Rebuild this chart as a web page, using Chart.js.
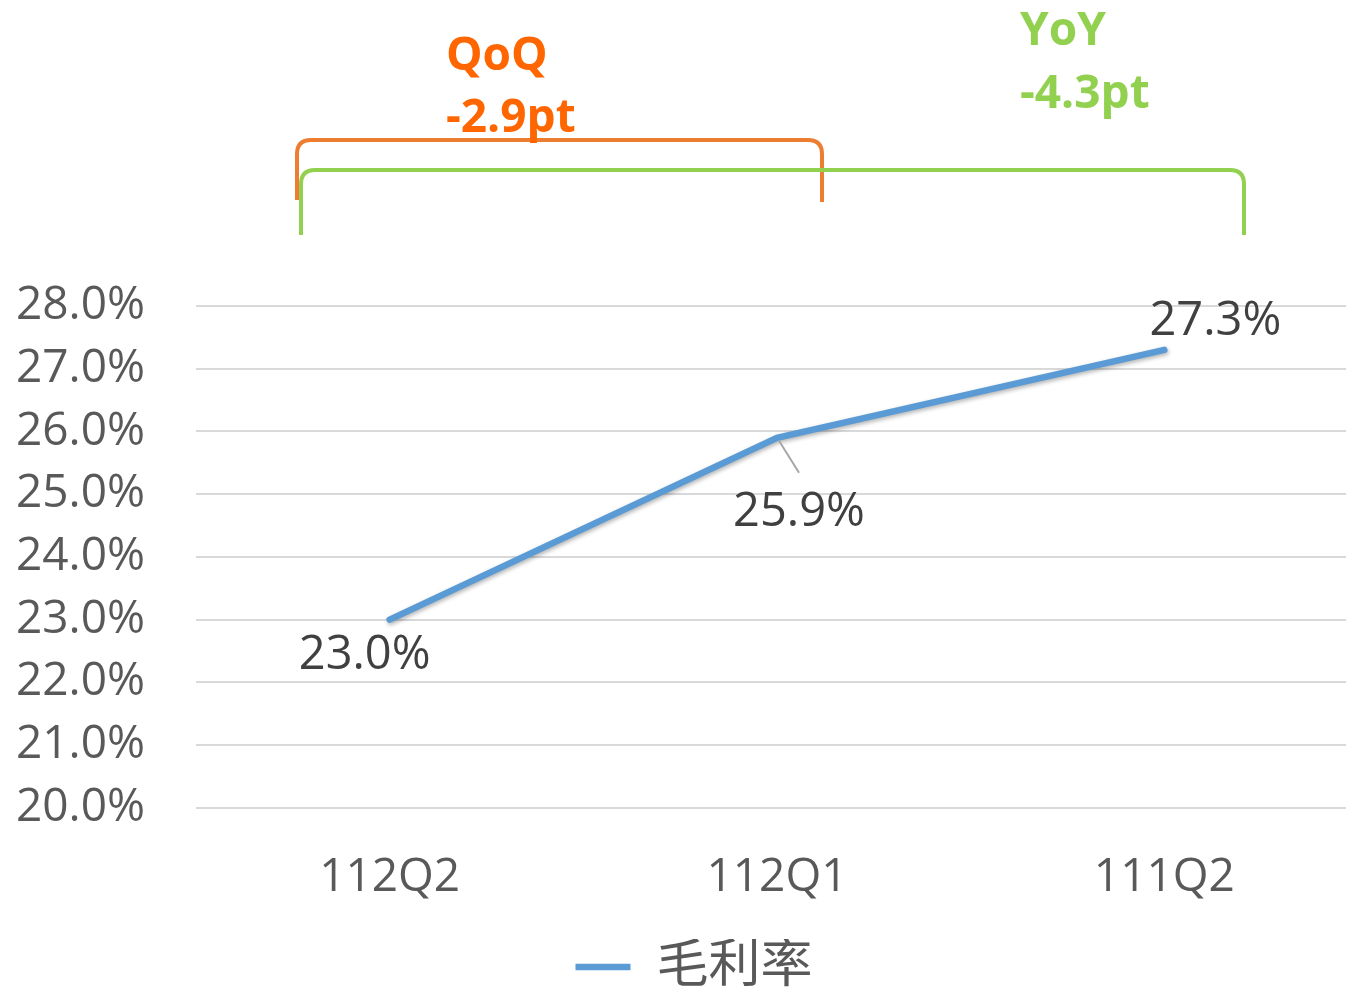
<!DOCTYPE html>
<html>
<head>
<meta charset="utf-8">
<script src="https://cdn.jsdelivr.net/npm/chart.js@4.4.0/dist/chart.umd.min.js"></script>
<style>
  body { margin: 0; overflow: hidden; background: #fff; }
  #wrap { width: 1358px; height: 987px; }
</style>
</head>
<body>
<div id="wrap"><canvas id="chart"></canvas></div>
<script>
// data
var categories = ["112Q2", "112Q1", "111Q2"];
var grossMargin = [23.0, 25.9, 27.3];
var seriesName = "毛利率";
var yTicks = [20, 21, 22, 23, 24, 25, 26, 27, 28];

var FONT = "'Open Sans', 'Noto Sans CJK TC', sans-serif";

// where each value label sits relative to its point
var labelOffsets = [[-25, 36], [22, 75], [51, -28]];

var valueLabels = {
    id: 'valueLabels',
    afterDatasetsDraw: function (chart) {
        var ctx = chart.ctx;
        var meta = chart.getDatasetMeta(0);
        ctx.save();
        // leader line for the middle label
        var p = meta.data[1];
        ctx.strokeStyle = '#a6a6a6';
        ctx.lineWidth = 2;
        ctx.beginPath();
        ctx.moveTo(p.x + 2, p.y + 3);
        ctx.lineTo(p.x + 22, p.y + 35);
        ctx.stroke();

        ctx.fillStyle = '#404040';
        ctx.font = '47px ' + FONT;
        ctx.textAlign = 'center';
        ctx.textBaseline = 'middle';
        meta.data.forEach(function (pt, i) {
            ctx.fillText(grossMargin[i].toFixed(1) + '%', pt.x + labelOffsets[i][0], pt.y + labelOffsets[i][1]);
        });
        ctx.restore();
    }
};

function bracket(ctx, x1, x2, top, b1, b2, r, color) {
    ctx.strokeStyle = color;
    ctx.lineWidth = 4;
    ctx.beginPath();
    ctx.moveTo(x1, b1);
    ctx.lineTo(x1, top + r);
    ctx.quadraticCurveTo(x1, top, x1 + r, top);
    ctx.lineTo(x2 - r, top);
    ctx.quadraticCurveTo(x2, top, x2, top + r);
    ctx.lineTo(x2, b2);
    ctx.stroke();
}

var annotations = {
    id: 'annotations',
    afterDraw: function (chart) {
        var ctx = chart.ctx;
        ctx.save();
        bracket(ctx, 297, 822, 140, 200, 202, 14, '#ED7D31');
        bracket(ctx, 301, 1244, 170, 235, 235, 14, '#92D050');
        ctx.font = 'bold 46px ' + FONT;
        ctx.textAlign = 'left';
        ctx.textBaseline = 'alphabetic';
        ctx.fillStyle = '#FF6600';
        ctx.fillText('QoQ', 446, 70);
        ctx.fillText('-2.9pt', 446, 132);
        ctx.fillStyle = '#92D050';
        ctx.fillText('YoY', 1020, 45);
        ctx.fillText('-4.3pt', 1020, 108);
        ctx.restore();
    }
};

var lineShadow = {
    id: 'lineShadow',
    beforeDatasetDraw: function (chart) {
        var ctx = chart.ctx;
        ctx.save();
        ctx.shadowColor = 'rgba(0,0,0,0.3)';
        ctx.shadowBlur = 4;
        ctx.shadowOffsetX = 1;
        ctx.shadowOffsetY = 2;
    },
    afterDatasetDraw: function (chart) {
        chart.ctx.restore();
    }
};

// nudge the legend a little right of the canvas centre
var legendShift = {
    id: 'legendShift',
    afterLayout: function (chart) {
        chart.legend.left += 15;
        chart.legend.right += 15;
    }
};

function renderChart() {
    var context = document.getElementById('chart').getContext('2d');
    new Chart(context, {
        type: 'line',
        data: {
            labels: categories,
            datasets: [{
                label: seriesName,
                data: grossMargin,
                borderColor: '#5B9BD5',
                backgroundColor: '#5B9BD5',
                borderWidth: 6.5,
                borderCapStyle: 'round',
                pointRadius: 0,
                pointStyle: 'line',
                tension: 0
            }]
        },
        options: {
            responsive: true,
            maintainAspectRatio: false,
            animation: false,
            layout: { padding: { top: 306, left: 0, right: 0, bottom: -16 } },
            scales: {
                x: {
                    offset: true,
                    grid: { display: false },
                    border: { display: false },
                    ticks: { color: '#595959', font: { family: FONT, size: 46 }, padding: 34 }
                },
                y: {
                    min: 20,
                    max: 28,
                    afterBuildTicks: function (scale) {
                        scale.ticks = yTicks.map(function (v) { return { value: v }; });
                    },
                    afterFit: function (scale) { scale.width = 196; },
                    grid: { color: '#d9d9d9', lineWidth: 2, drawTicks: false },
                    border: { display: false },
                    ticks: {
                        color: '#595959',
                        font: { family: FONT, size: 46 },
                        padding: 51,
                        callback: function (v) { return v.toFixed(1) + '%'; }
                    }
                }
            },
            plugins: {
                tooltip: { enabled: false },
                legend: {
                    position: 'bottom',
                    labels: {
                        usePointStyle: true,
                        pointStyleWidth: 55,
                        color: '#595959',
                        font: { family: FONT, size: 52 },
                        padding: 2
                    }
                }
            }
        },
        plugins: [lineShadow, valueLabels, annotations, legendShift]
    });
}

renderChart();
</script>
</body>
</html>
